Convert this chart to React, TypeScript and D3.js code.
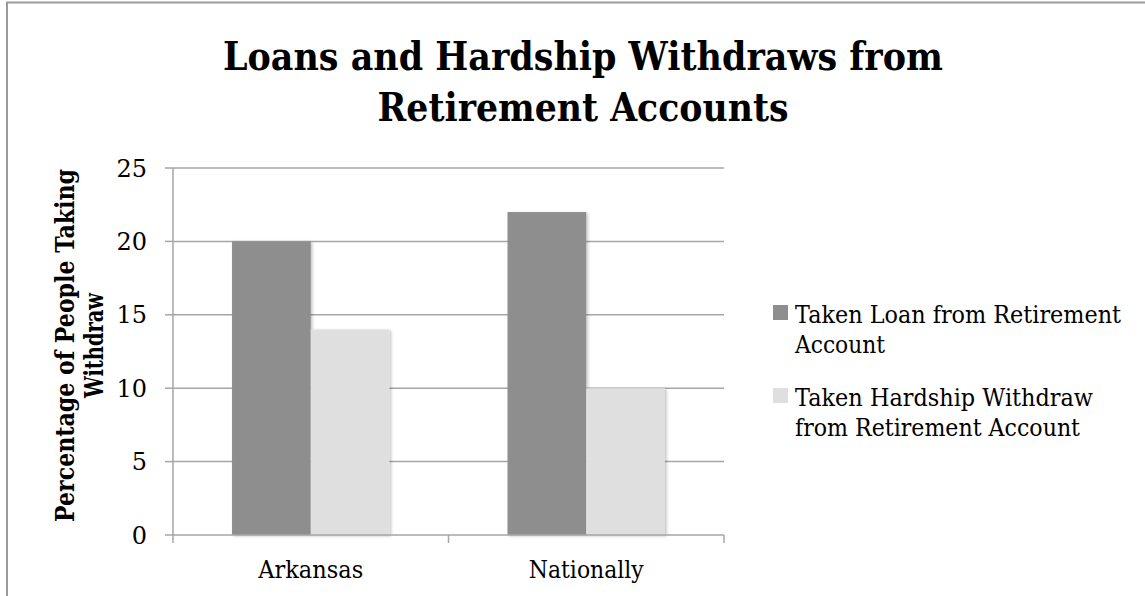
import React from "react";
import * as d3 from "d3";

const categories = ["Arkansas", "Nationally"];
const seriesNames = ["Taken Loan from Retirement Account", "Taken Hardship Withdraw from Retirement Account"];
const loanValues = [20, 22];
const hardshipValues = [14, 10];
const yTicks = [0, 5, 10, 15, 20, 25];
const titleLines = ["Loans and Hardship Withdraws from", "Retirement Accounts"];
const yTitleLines = ["Percentage of People Taking", "Withdraw"];
const legendLines = [["Taken Loan from Retirement", "Account"], ["Taken Hardship Withdraw", "from Retirement Account"]];

const colors = ["#8e8e8e", "#dfdfdf"];
const FONT = "'DejaVu Serif', 'Liberation Serif', serif";

export default function App() {
  const W = 1145, H = 596;
  const left = 173, right = 724, top = 168, bottom = 535;
  const x = d3.scaleBand<string>().domain(categories).range([left, right]).paddingInner(1.5 / 3.5).paddingOuter(0.75 / 3.5);
  const xs = d3.scaleBand<string>().domain(seriesNames).range([0, x.bandwidth()]).padding(0);
  const y = d3.scaleLinear().domain([0, 25]).range([bottom, top]);
  const series = [loanValues, hardshipValues];
  const step = x.step();
  const catEdges = [left, ...categories.map((c) => (x(c) as number) - (step - x.bandwidth()) / 2 + step)];

  const titleWidths = [720, 411];
  const legendWidths = [[326, 90], [298, 285]];
  const legendBase = [323, 406];
  const yTitleWidths = [353, 105];
  const xLabelWidths = [105, 115];

  return (
    <svg width={W} height={H} style={{ position: "absolute", left: 0, top: 0, background: "#fff" }} fontFamily={FONT}>
      <defs>
        <filter id="sh" x="-10%" y="-10%" width="130%" height="130%">
          <feDropShadow dx="1.5" dy="1" stdDeviation="1.5" floodColor="#000" floodOpacity="0.25" />
        </filter>
      </defs>
      <rect x={0} y={0} width={W} height={H} fill="#fff" />
      <rect x={7} y={2.5} width={W + 20} height={H + 20} fill="none" stroke="#9a9a9a" strokeWidth={2} />

      {titleLines.map((t, i) => (
        <text key={t} x={583} y={70 + i * 51} textAnchor="middle" fontWeight="bold" fontSize={40}
          textLength={titleWidths[i]} lengthAdjust="spacingAndGlyphs" fill="#000">{t}</text>
      ))}

      {yTicks.map((t) => (
        <g key={t}>
          {t > 0 && <line x1={left} x2={right} y1={y(t)} y2={y(t)} stroke="#a6a6a6" strokeWidth={1.5} />}
          <line x1={left - 8} x2={left} y1={y(t)} y2={y(t)} stroke="#a6a6a6" strokeWidth={1.5} />
          <text x={147} y={y(t)} dy="0.36em" textAnchor="end" fontSize={24} fill="#000">{t}</text>
        </g>
      ))}

      {categories.map((c, ci) => (
        <g key={c} transform={`translate(${x(c)},0)`}>
          {seriesNames.map((s, si) => (
            <rect key={s} x={xs(s)} y={y(series[si][ci])} width={xs.bandwidth()} height={bottom - y(series[si][ci])}
              fill={colors[si]} filter="url(#sh)" />
          ))}
        </g>
      ))}

      <line x1={left} x2={left} y1={top} y2={bottom} stroke="#a6a6a6" strokeWidth={1.5} />
      <line x1={left} x2={right} y1={bottom} y2={bottom} stroke="#a6a6a6" strokeWidth={1.5} />
      {catEdges.map((e, i) => (
        <line key={i} x1={e} x2={e} y1={bottom} y2={bottom + 8} stroke="#a6a6a6" strokeWidth={1.5} />
      ))}
      {categories.map((c, i) => (
        <text key={c} x={(x(c) as number) + x.bandwidth() / 2} y={578} textAnchor="middle" fontSize={25}
          textLength={xLabelWidths[i]} lengthAdjust="spacingAndGlyphs" fill="#000">{c}</text>
      ))}

      <g transform={`translate(74,${(top + bottom) / 2 - 6}) rotate(-90)`}>
        {yTitleLines.map((t, i) => (
          <text key={t} x={0} y={i * 29} textAnchor="middle" fontWeight="bold" fontSize={26}
            textLength={yTitleWidths[i]} lengthAdjust="spacingAndGlyphs" fill="#000">{t}</text>
        ))}
      </g>

      {seriesNames.map((s, si) => (
        <g key={s}>
          <rect x={773} y={legendBase[si] - 18} width={15} height={15} fill={colors[si]} />
          {legendLines[si].map((l, li) => (
            <text key={l} x={795} y={legendBase[si] + li * 30} fontSize={24}
              textLength={legendWidths[si][li]} lengthAdjust="spacingAndGlyphs" fill="#000">{l}</text>
          ))}
        </g>
      ))}
    </svg>
  );
}
